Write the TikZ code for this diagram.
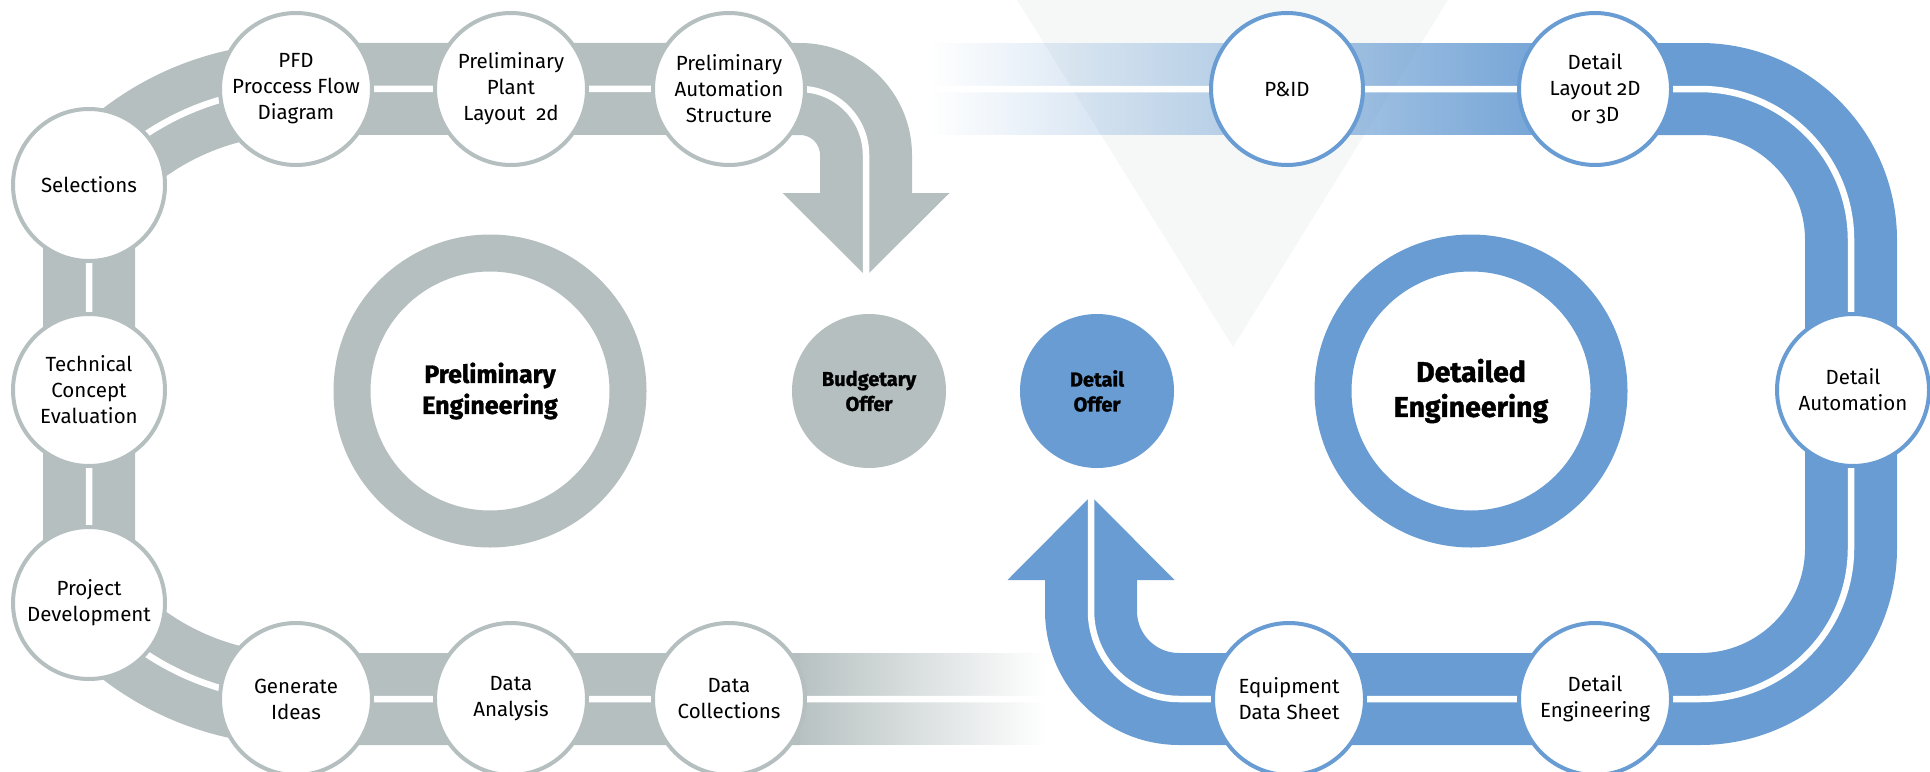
\documentclass[tikz,border=0pt]{standalone}
\usepackage{fontspec}
\setmainfont{Fira Sans}[Numbers=OldStyle]
\newfontfamily\heavyfam{Fira Sans}[Numbers=OldStyle, BoldFeatures={FakeBold=1.3}]
\newcommand\heavyfont{\heavyfam\bfseries}
\usetikzlibrary{fadings}
\definecolor{pgrey}{RGB}{181,191,192}
\definecolor{pblue}{RGB}{104,156,210}
\definecolor{tricol}{RGB}{246,248,248}
\tikzfading[name=fadein, left color=transparent!100, right color=transparent!0]
\tikzfading[name=fadeout, left color=transparent!0, right color=transparent!100]
\newcommand\mylbl{\fontsize{20.5}{26}\selectfont}
\newcommand\myhvy{\heavyfont\fontsize{25}{31}\selectfont}
\newcommand\myhvybig{\heavyfont\fontsize{28.5}{35}\selectfont}
\newcommand\myhvysmall{\heavyfont\fontsize{20}{25}\selectfont}
\begin{document}
\begin{tikzpicture}[x=1pt,y=-1pt,
  band/.style={line width=92pt, line join=round},
  sepline/.style={draw=white, line width=6.5pt, line join=round},
  stepnode/.style={circle, fill=white, line width=4pt, minimum size=152pt, inner sep=0pt, align=center, font=\mylbl, text=black},
  gnode/.style={stepnode, draw=pgrey},
  bnode/.style={stepnode, draw=pblue},
  offer/.style={circle, minimum size=154pt, inner sep=0pt, align=center, font=\myhvysmall, text=black},
  ring/.style={circle, fill=white, line width=37pt, minimum size=276pt, inner sep=0pt, align=center, text=black}]
\useasboundingbox (0,0) rectangle (1930,771);
% centres
\coordinate (pfd) at (296,89);
\coordinate (plant) at (511,89);
\coordinate (auto) at (729,89);
\coordinate (sel) at (89,185);
\coordinate (tech) at (89,390);
\coordinate (proj) at (89,603);
\coordinate (gen) at (296,699);
\coordinate (ana) at (511,699);
\coordinate (coll) at (729,699);
\coordinate (pid) at (1287,89);
\coordinate (lay) at (1595,89);
\coordinate (dauto) at (1853,390);
\coordinate (deng) at (1595,699);
\coordinate (equip) at (1289,699);
\coordinate (gfadeend) at (1045,699);
\coordinate (bfadestart) at (930,89);
\coordinate (gtip) at (866,276);
\coordinate (btip) at (1091,496);
% background triangle
\fill[tricol] (1017,0) -- (1448,0) -- (1233,347) -- cycle;
% fades
\fill[pgrey, path fading=fadeout, fit fading=true] (790,653) rectangle (1045,745);
\fill[pblue, path fading=fadein, fit fading=true] (930,43) rectangle (1600,135);
% grey band
\draw[pgrey, band] (800,699) -- (gen) arc[start angle=90, end angle=139.8, radius=271]
  -- (sel) arc[start angle=-139.8, end angle=-90, radius=271]
  -- (800,89) arc[start angle=-90, end angle=0, radius=66] -- (866,195);
\fill[pgrey] (782.5,193) -- (949.5,193) -- (gtip) -- cycle;
% blue band
\draw[pblue, band] (1590,89) -- (1700,89) arc[start angle=-90, end angle=0, radius=151]
  -- (1851,548) arc[start angle=0, end angle=90, radius=151]
  -- (1179,699) arc[start angle=90, end angle=180, radius=88] -- (1091,578);
\fill[pblue] (1007.5,580) -- (1174.5,580) -- (btip) -- cycle;
% separators
\draw[sepline] (gfadeend) -- (gen) arc[start angle=90, end angle=139.8, radius=271]
  -- (sel) arc[start angle=-139.8, end angle=-90, radius=271]
  -- (800,89) arc[start angle=-90, end angle=0, radius=66] -- (gtip);
\draw[sepline] (bfadestart) -- (1700,89) arc[start angle=-90, end angle=0, radius=151]
  -- (1851,548) arc[start angle=0, end angle=90, radius=151]
  -- (1179,699) arc[start angle=90, end angle=180, radius=88] -- (btip);
% big rings
\node[ring, draw=pgrey, font=\myhvy] (prelim) at (490,391) {Preliminary\\Engineering};
\node[ring, draw=pblue, font=\myhvybig] (detailed) at (1471,391) {Detailed\\Engineering};
% offers
\node[offer, fill=pgrey] (budget) at (869,391) {Budgetary\\Offer};
\node[offer, fill=pblue] (doffer) at (1097,391) {Detail\\Offer};
% grey steps
\node[gnode] (n1) at (pfd) {PFD\\Proccess Flow\\Diagram};
\node[gnode] (n2) at (plant) {Preliminary\\Plant\\Layout~~2d};
\node[gnode] (n3) at (auto) {Preliminary\\Automation\\Structure};
\node[gnode] (n4) at (sel) {Selections};
\node[gnode] (n5) at (tech) {Technical\\Concept\\Evaluation};
\node[gnode] (n6) at (proj) {Project\\Development};
\node[gnode] (n7) at (gen) {Generate\\Ideas};
\node[gnode] (n8) at (ana) {Data\\Analysis};
\node[gnode] (n9) at (coll) {Data\\Collections};
% blue steps
\node[bnode] (m1) at (pid) {P\&ID};
\node[bnode] (m2) at (lay) {Detail\\Layout 2D\\or 3D};
\node[bnode] (m3) at (dauto) {Detail\\Automation};
\node[bnode] (m4) at (deng) {Detail\\Engineering};
\node[bnode] (m5) at (equip) {Equipment\\Data Sheet};
\end{tikzpicture}
\end{document}
